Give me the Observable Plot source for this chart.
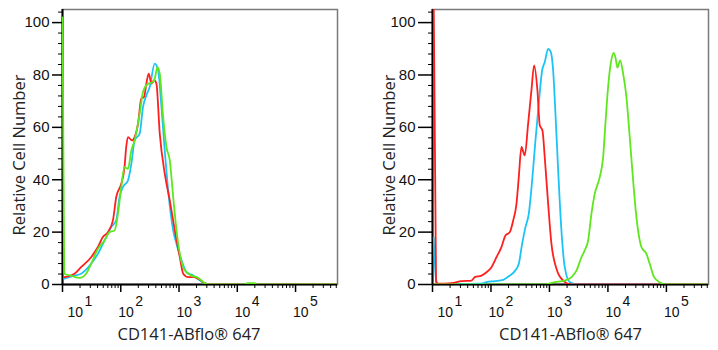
<!DOCTYPE html>
<html><head><meta charset="utf-8">
<script src="https://cdn.jsdelivr.net/npm/d3@7"></script>
<script src="https://cdn.jsdelivr.net/npm/@observablehq/plot@0.6"></script>
<style>
html,body{margin:0;padding:0;background:#fff;}
#wrap{display:flex;width:718px;height:350px;overflow:hidden;}
#wrap svg{display:block;flex:none;}
</style></head><body><div id="wrap"></div>
<script>
const seriesNames = ["Control", "Isotype", "CD141"];
const seriesColors = ["#ff1f1f", "#1cc3f6", "#5ee61e"];
const yTicks = [0, 20, 40, 60, 80, 100];
const xDecades = [10, 100, 1000, 10000, 100000];
const xExponents = ["1", "2", "3", "4", "5"];
const xTitle = "CD141-ABflo\u00AE 647";
const yTitle = "Relative Cell Number";

// Left panel
const leftRedX = [10.7, 16, 20.8, 31, 40.5, 49.3, 60.1, 73.4, 83.6, 102, 116, 124, 133, 156, 173, 198, 225, 251, 275, 302, 336, 374, 409, 467, 569, 694, 847, 1033, 1181, 1441, 1758, 2143, 2787, 3394, 525000];
const leftRedY = [2.8, 4.1, 6.6, 10.4, 14.3, 18.1, 20, 24.5, 33.4, 38.5, 44.8, 52.5, 56.3, 55, 56.3, 61.4, 71, 71.6, 76.7, 80.5, 76.7, 78, 76.7, 57.6, 42.3, 32.1, 20.6, 10.4, 4.1, 2.8, 2.8, 2.2, 0.5, 0, 0];
const leftBlueX = [10.7, 16, 20.8, 31, 40.5, 52.6, 68.6, 83.6, 95.3, 109, 133, 152, 173, 211, 241, 275, 314, 383, 438, 499, 569, 651, 794, 906, 1104, 1346, 1758, 2286, 3185, 525000];
const leftBlueY = [2.2, 3.4, 4.1, 7.9, 11.7, 16.8, 21.9, 24.5, 33.4, 37.2, 39.7, 46.1, 55, 57.6, 67.8, 72.2, 75.4, 84.3, 81.8, 67.8, 51.2, 35.9, 20.6, 15.5, 9.2, 4.7, 3.4, 1.5, 0, 0];
const leftGreenX = [10, 10.7, 14, 19.5, 25.4, 31, 40.5, 52.6, 64.1, 78.2, 89.5, 102, 116, 133, 152, 173, 211, 241, 295, 359, 383, 426, 467, 534, 608, 694, 794, 906, 1033, 1259, 1643, 2143, 2787, 3394, 13000, 15000, 20000, 22000, 525000];
const leftGreenY = [102, 4.1, 3.4, 2.5, 4.1, 7.9, 13.6, 16.8, 20, 20.6, 27, 37.2, 44.8, 44.2, 51.2, 55, 65.2, 73.5, 76.7, 77.3, 78.6, 83, 80.5, 63.9, 52.5, 47.4, 33.4, 20.6, 11.7, 5.3, 3.4, 2.5, 0.5, 0, 0, 0.5, 0.5, 0, 0];

// Right panel
const rightRedX = [10.5, 11.5, 12.5, 21.1, 31.3, 46.5, 52.9, 68.8, 83.8, 102, 124, 151, 177, 210, 240, 273, 299, 332, 378, 432, 492, 547, 623, 683, 759, 831, 950, 1082, 1318, 1715, 2377, 525000];
const rightRedY = [106, 1, 0.3, 0.5, 1.3, 1.5, 2.8, 3.4, 4.7, 6.6, 10.4, 14.3, 18.7, 20, 24.5, 30.8, 41, 52.5, 49.3, 61.4, 74.1, 83.7, 74.1, 60.8, 58.8, 48.6, 30.8, 15.5, 6, 1.5, 0, 0];
const rightBlueX = [10.5, 11.5, 12.5, 68.8, 83.8, 116, 162, 210, 255, 299, 341, 389, 443, 506, 576, 656, 750, 831, 950, 1052, 1156, 1267, 1409, 1603, 1828, 2224, 3095, 525000];
const rightBlueY = [18, 2, 0, 0.3, 0.9, 1.3, 1.8, 3.4, 5.1, 7.9, 15.5, 21.9, 27, 39.7, 55, 69, 81.8, 84.9, 90, 88.8, 81.8, 65.2, 43.6, 20.6, 6.6, 0.9, 0, 0];
const rightGreenX = [10.5, 831, 1233, 1828, 2377, 2897, 3524, 4010, 4588, 5223, 5945, 7244, 8279, 9058, 10070, 11160, 12560, 13590, 14530, 16180, 18200, 20720, 23600, 26980, 30720, 37410, 45530, 51880, 61660, 76800, 100000, 525000];
const rightGreenY = [0, 0, 0.9, 1.5, 2.8, 5.3, 10.4, 13, 16.8, 27, 34.6, 41, 48.6, 61.4, 75.4, 84.3, 88.4, 86.2, 82.8, 85.6, 80.5, 71.6, 56.3, 39.7, 25.7, 14.3, 11.7, 7.9, 2.8, 0.9, 0, 0];

const xMax = Math.pow(10, 5.72);

function rows(xs, ys, name) { return xs.map((x, i) => ({x, y: ys[i], s: name})); }

function panel(o) {
  const minor = [];
  for (const d of xDecades) for (let k = 2; k <= 9; k++) if (k * d <= xMax) minor.push(k * d);
  const yMinor = d3.range(0, 105, 4).filter(v => v % 20 !== 0);
  const lineOpts = {x: "x", y: "y", stroke: "s", strokeWidth: 1.8, curve: "monotone-x", clip: true};
  const lbl = {frameAnchor: "bottom", lineAnchor: "middle", textAnchor: "start", fontSize: 14, fill: "#111"};
  return Plot.plot({
    width: o.width, height: 350,
    marginLeft: o.mLeft, marginRight: o.mRight, marginTop: 9, marginBottom: 66,
    x: {type: "log", domain: [10, xMax]},
    y: {domain: [0, 105]},
    color: {domain: seriesNames, range: seriesColors},
    style: {fontFamily: "'Liberation Sans', Arial, sans-serif", background: "#fff", overflow: "visible"},
    marks: [
      Plot.frame({stroke: "#7a7a7a", strokeWidth: 1.5}),
      Plot.axisY(yTicks, {tickSize: o.yTick, tickPadding: 3, fontSize: 15, fill: "#111", stroke: "#000", strokeWidth: 1.5, label: null, tickFormat: d => String(d)}),
      Plot.axisY(yMinor, {tickSize: 4, stroke: "#000", strokeWidth: 1, label: null, tickFormat: () => ""}),
      Plot.axisX(xDecades, {tickSize: 8, stroke: "#000", strokeWidth: 1.5, label: null, tickFormat: () => ""}),
      Plot.axisX(minor, {tickSize: 4, stroke: "#000", strokeWidth: 1, label: null, tickFormat: () => ""}),
      Plot.ruleX([10], {stroke: "#000", strokeWidth: 2}),
      Plot.ruleY([0], {stroke: "#000", strokeWidth: 2}),
      Plot.line(rows(o.blue[0], o.blue[1], seriesNames[1]), lineOpts),
      Plot.line(rows(o.red[0], o.red[1], seriesNames[0]), lineOpts),
      Plot.line(rows(o.green[0], o.green[1], seriesNames[2]), lineOpts),
      Plot.text(xDecades.slice(0, 1), {...lbl, x: d => d, text: () => "10", dx: 5, dy: 28}),
      Plot.text(xDecades.slice(1), {...lbl, x: d => d, text: () => "10", dx: -2.5, dy: 28}),
      Plot.text(xDecades.slice(0, 1), {...lbl, x: d => d, text: () => xExponents[0], dx: 22, dy: 17}),
      Plot.text(xDecades.slice(1), {...lbl, x: d => d, text: (d, i) => xExponents[i + 1], dx: 14.5, dy: 17}),
      Plot.text([xTitle], {frameAnchor: "bottom", lineAnchor: "middle", textAnchor: "middle", dx: o.xTitleDx, dy: 50, fontSize: 16.5, fontFamily: "'Open Sans', sans-serif", fill: "#222"}),
      Plot.text([yTitle], {frameAnchor: "left", lineAnchor: "middle", textAnchor: "middle", dx: -43, dy: 8, rotate: -90, fontSize: 16.5, fontFamily: "'Open Sans', sans-serif", fill: "#222"})
    ]
  });
}

const wrap = document.getElementById("wrap");
wrap.append(panel({width: 359, mLeft: 62, mRight: 22, yTick: 10, xTitleDx: -11,
  red: [leftRedX, leftRedY], blue: [leftBlueX, leftBlueY], green: [leftGreenX, leftGreenY]}));
wrap.append(panel({width: 359, mLeft: 73, mRight: 10, yTick: 14, xTitleDx: 0,
  red: [rightRedX, rightRedY], blue: [rightBlueX, rightBlueY], green: [rightGreenX, rightGreenY]}));
</script></body></html>
